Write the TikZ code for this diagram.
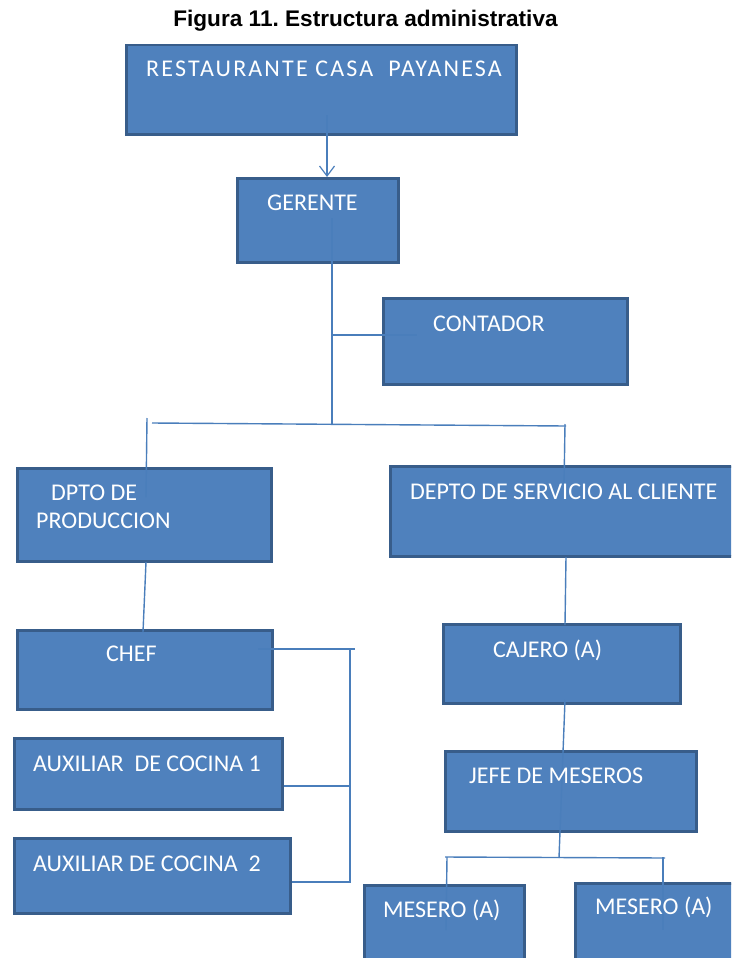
\documentclass[tikz,border=0pt]{standalone}
\usepackage{fontspec}
\setmainfont{Carlito}
\newfontfamily\titlefont{Liberation Sans}
\usetikzlibrary{arrows.meta,calc}
\definecolor{boxfill}{HTML}{4F81BD}
\definecolor{boxline}{HTML}{385D8A}
\definecolor{conncol}{HTML}{4A7EBB}
\frenchspacing
\begin{document}
\begin{tikzpicture}[x=1pt,y=-1pt,
  box/.style={draw=boxline, fill=boxfill, line width=2.5pt, rectangle, anchor=north west, inner sep=0pt},
  lbl/.style={anchor=base west, inner sep=0pt, text=white, font=\fontsize{24}{28}\selectfont},
  conn/.style={draw=conncol, line width=1.4pt},
  tip/.style={-{Straight Barb[length=10pt,width=15pt,line width=1.2pt]}}]
\useasboundingbox (0,0) rectangle (731,958);
\clip (0,0) rectangle (731,958);
\node[anchor=base, inner sep=0pt, font=\titlefont\bfseries\fontsize{22.6}{25}\selectfont] (title) at (365.5,26.5) {Figura 11. Estructura administrativa};
% boxes
\node[box, minimum width=390pt, minimum height=89pt] (rest) at (125,44) {};
\node[box, minimum width=161pt, minimum height=84pt] (gerente) at (236,177) {};
\node[box, minimum width=244pt, minimum height=86pt] (contador) at (382,297) {};
\node[box, minimum width=254pt, minimum height=93pt] (dpto) at (16,467) {};
\node[box, minimum width=356pt, minimum height=90pt] (depto) at (389,465) {};
\node[box, minimum width=255pt, minimum height=79pt] (chef) at (16,629) {};
\node[box, minimum width=268pt, minimum height=71pt] (aux1) at (13,737) {};
\node[box, minimum width=276pt, minimum height=75pt] (aux2) at (13,837) {};
\node[box, minimum width=237pt, minimum height=79pt] (cajero) at (442,623) {};
\node[box, minimum width=251pt, minimum height=80pt] (jefe) at (444,750) {};
\node[box, minimum width=160pt, minimum height=95pt] (mes1) at (363,884) {};
\node[box, minimum width=171pt, minimum height=97pt] (mes2) at (574,882) {};
% junction coordinates
\coordinate (r1) at (327,115);
\coordinate (g1) at (332,218);
\coordinate (g2) at (332,425);
\coordinate (c1) at (417,335);
\coordinate (bl) at (152,423);
\coordinate (br) at (566,426);
\coordinate (vl1) at (147,418);
\coordinate (vl2) at (146,497);
\coordinate (vr1) at (565,424);
\coordinate (vr2) at (564,487);
\coordinate (p1) at (146,562);
\coordinate (p2) at (143,632);
\coordinate (d1) at (566,557);
\coordinate (d2) at (565,625);
\coordinate (ch1) at (258,649);
\coordinate (ch2) at (355,649);
\coordinate (k1) at (350,649);
\coordinate (k2) at (350,883);
\coordinate (a1) at (350,786);
\coordinate (a2) at (350,882);
\coordinate (cj1) at (565,700);
\coordinate (jm) at (559,858);
\coordinate (ml) at (445,857);
\coordinate (mr) at (665,858);
\coordinate (ml1) at (447,857);
\coordinate (ml2) at (446,930);
\coordinate (mr1) at (663,857);
\coordinate (mr2) at (663,930);
% connectors
\draw[conn,tip] (r1) -- (r1 |- gerente.north);
\draw[conn] (g1) -- (g2);
\draw[conn] (g1 |- c1) -- (c1);
\draw[conn] (bl) -- (br);
\draw[conn] (vl1) -- (vl2);
\draw[conn] (vr1) -- (vr2);
\draw[conn] (p1) -- (p2);
\draw[conn] (d1) -- (d2);
\draw[conn] (ch1) -- (ch2);
\draw[conn] (k1) -- (k2);
\draw[conn] (aux1.east |- a1) -- (a1);
\draw[conn] (aux2.east |- a2) -- (a2);
\draw[conn] (cj1) -- (jm);
\draw[conn] (ml) -- (mr);
\draw[conn] (ml1) -- (ml2);
\draw[conn] (mr1) -- (mr2);
% labels
\node[lbl] (restT) at (146,76) {\addfontfeature{LetterSpace=9}RESTAURANTE CASA\ \ PAYANESA};
\node[lbl] (gerenteT) at (267,210) {GERENTE};
\node[lbl] (contadorT) at (433,331) {CONTADOR};
\node[lbl] (dptoT1) at (51,500) {DPTO DE};
\node[lbl] (dptoT2) at (36,528) {PRODUCCION};
\node[lbl] (deptoT) at (410,499) {DEPTO DE SERVICIO AL CLIENTE};
\node[lbl] (chefT) at (106,661) {CHEF};
\node[lbl] (aux1T) at (33,771) {AUXILIAR\ \ DE COCINA 1};
\node[lbl] (aux2T) at (33,871) {AUXILIAR DE COCINA\ \ 2};
\node[lbl] (cajeroT) at (493,657) {CAJERO (A)};
\node[lbl] (jefeT) at (469,783) {JEFE DE MESEROS};
\node[lbl] (mes1T) at (383,917) {MESERO (A)};
\node[lbl] (mes2T) at (595,914) {MESERO (A)};
\end{tikzpicture}
\end{document}
